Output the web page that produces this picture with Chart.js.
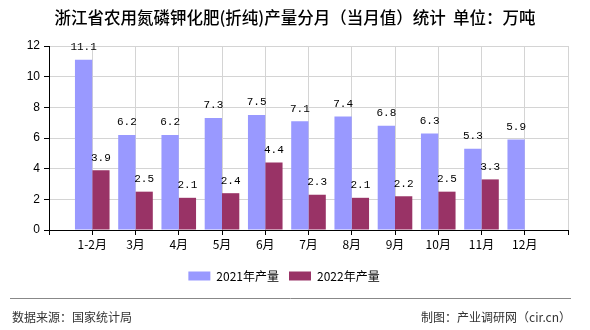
<!DOCTYPE html>
<html>
<head>
<meta charset="utf-8">
<script src="https://cdn.jsdelivr.net/npm/chart.js@4/dist/chart.umd.min.js"></script>
<style>
    html, body { margin: 0; padding: 0; background: #fff; }
    .chart-box { width: 590px; height: 330px; position: relative; }
</style>
</head>
<body>
<div class="chart-box"><canvas class="outputChart"></canvas></div>
<script>
const titleTxt = '浙江省农用氮磷钾化肥(折纯)产量分月（当月值）统计  单位：万吨';
const sourceTxt = '数据来源：国家统计局';
const makerTxt = '制图：产业调研网（cir.cn）';

const months = ['1-2月', '3月', '4月', '5月', '6月', '7月', '8月', '9月', '10月', '11月', '12月'];
const output2021 = [11.1, 6.2, 6.2, 7.3, 7.5, 7.1, 7.4, 6.8, 6.3, 5.3, 5.9];
const output2022 = [3.9, 2.5, 2.1, 2.4, 4.4, 2.3, 2.1, 2.2, 2.5, 3.3, null];
const seriesNames = ['2021年产量', '2022年产量'];
const yTicks = [0, 2, 4, 6, 8, 10, 12];

const cjkFont = '"Noto Sans CJK SC", "Noto Sans", sans-serif';
const outputChartCanvas = document.querySelector('.outputChart');

// empty slot on each end so the months sit on the grid lines
const axisLabels = ['', ...months, ''];
function padSeries(values) {
    return [null, ...values, null];
}

const valueLabels = {
    id: 'valueLabels',
    afterDatasetsDraw(chart) {
        const ctx = chart.ctx;
        ctx.save();
        ctx.font = '11px "Liberation Mono", "DejaVu Sans Mono", monospace';
        ctx.fillStyle = '#000';
        ctx.textAlign = 'center';
        ctx.textBaseline = 'bottom';
        chart.data.datasets.forEach((dataset, i) => {
            chart.getDatasetMeta(i).data.forEach((bar, j) => {
                const value = dataset.data[j];
                if (value === null || value === undefined) return;
                ctx.fillText(value.toFixed(1), bar.x, bar.y - 7);
            });
        });
        ctx.restore();
    }
};

const frameText = {
    id: 'frameText',
    afterDraw(chart) {
        const ctx = chart.ctx;
        ctx.save();
        ctx.fillStyle = '#000';
        ctx.textAlign = 'center';
        ctx.textBaseline = 'middle';
        ctx.font = '500 16.5px ' + cjkFont;
        ctx.fillText(titleTxt, 295, 18);

        ctx.strokeStyle = '#888';
        ctx.lineWidth = 1;
        ctx.beginPath();
        ctx.moveTo(10, 298.5);
        ctx.lineTo(571, 298.5);
        ctx.stroke();

        ctx.fillStyle = '#333';
        ctx.font = '12px ' + cjkFont;
        ctx.textAlign = 'left';
        ctx.fillText(sourceTxt, 12, 317);
        ctx.textAlign = 'right';
        ctx.fillText(makerTxt, 571, 317);
        ctx.restore();
    }
};

new Chart(outputChartCanvas, {
    type: 'bar',
    data: {
        labels: axisLabels,
        datasets: [{
            label: seriesNames[0],
            data: padSeries(output2021),
            backgroundColor: '#9999ff'
        }, {
            label: seriesNames[1],
            data: padSeries(output2022),
            backgroundColor: '#993366'
        }]
    },
    options: {
        responsive: true,
        maintainAspectRatio: false,
        animation: false,
        layout: {
            padding: { top: 46, right: 22, left: 0, bottom: 38 }
        },
        datasets: {
            bar: { categoryPercentage: 0.8, barPercentage: 1.0 }
        },
        scales: {
            x: {
                offset: false,
                grid: { offset: false, color: '#d4d4d4', tickColor: '#000', tickLength: 5 },
                border: { color: '#000' },
                ticks: {
                    color: '#000',
                    padding: 2,
                    maxRotation: 0,
                    autoSkip: false,
                    font: { size: 12, family: cjkFont }
                },
                afterFit: (scale) => { scale.height = 30; }
            },
            y: {
                min: 0,
                max: 12,
                afterBuildTicks: (scale) => { scale.ticks = yTicks.map(v => ({ value: v })); },
                grid: { color: '#d4d4d4', tickColor: '#000', tickLength: 5 },
                border: { color: '#000' },
                ticks: {
                    color: '#000',
                    padding: 4,
                    font: { size: 12, family: '"Liberation Sans", sans-serif' }
                },
                afterFit: (scale) => { scale.width = 49; }
            }
        },
        plugins: {
            legend: {
                position: 'bottom',
                labels: {
                    color: '#000',
                    boxWidth: 22,
                    boxHeight: 9,
                    padding: 10,
                    font: { size: 12, family: cjkFont }
                }
            },
            tooltip: { enabled: false }
        }
    },
    plugins: [valueLabels, frameText]
});
</script>
</body>
</html>
